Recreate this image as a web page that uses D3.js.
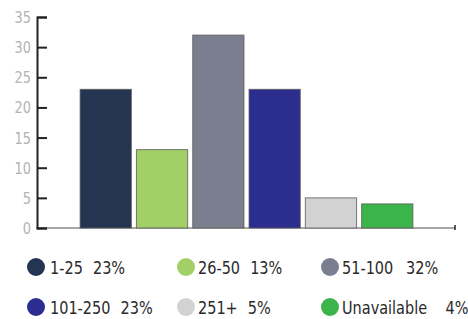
<!DOCTYPE html>
<html>
<head>
<meta charset="utf-8">
<script src="https://cdn.jsdelivr.net/npm/d3@7"></script>
<style>
body{margin:0;background:#fff;}
text{font-family:"DejaVu Sans Condensed","DejaVu Sans",sans-serif;}
</style>
</head>
<body>
<div id="chart"></div>
<script>
let categories = ['1-25','26-50','51-100','101-250','251+','Unavailable'];
let values = [23,13,32,23,5,4];
let percents = ['23%','13%','32%','23%','5%','4%'];
let colors = ['#243451','#a2d066','#7a7e8e','#2c2e8f','#d2d2d2','#3bb44a'];
let yTicks = [0,5,10,15,20,25,30,35];

let svg = d3.select('#chart').append('svg')
    .attr('width',468).attr('height',319);

let y = d3.scaleLinear().domain([0,35]).range([228,17]);
let x = d3.scaleBand().domain(categories).range([79,414]).paddingInner(0.09).paddingOuter(0.02);

// x baseline
svg.append('line')
    .attr('x1',36).attr('x2',455).attr('y1',y(0)).attr('y2',y(0))
    .attr('stroke','#8a8a8a').attr('stroke-width',1.5);
svg.append('line')
    .attr('x1',455).attr('x2',455).attr('y1',y(0)-3).attr('y2',y(0)+2)
    .attr('stroke','#222').attr('stroke-width',1.5);

// bars
svg.selectAll('rect.bar')
    .data(values)
    .join('rect')
    .attr('class','bar')
    .attr('x',(d,i)=>x(categories[i]))
    .attr('width',x.bandwidth())
    .attr('y',d=>y(d))
    .attr('height',d=>y(0)-y(d))
    .attr('fill',(d,i)=>colors[i])
    .attr('stroke','#5a5a5a')
    .attr('stroke-opacity',0.8)
    .attr('stroke-width',1);

// y axis
let yAxis = d3.axisRight(y).tickValues(yTicks).tickSize(10).tickFormat('');
let ga = svg.append('g').attr('transform','translate(37,0)').call(yAxis);
ga.select('.domain').attr('stroke','#222').attr('stroke-width',2);
ga.selectAll('.tick line').attr('stroke','#222').attr('stroke-width',2);

svg.selectAll('text.ylab')
    .data(yTicks)
    .join('text')
    .attr('class','ylab')
    .attr('transform',d=>'translate(31,'+(y(d)+6)+') scale(0.9,1)')
    .attr('text-anchor','end')
    .attr('font-size',16)
    .attr('fill','#b3b3b3')
    .text(d=>d);

// legend
let legendX = [36,186,330];
let labelGap = [14,12,12];
let pctGap = [11,11,14,11,11,20];
let legendY = [267,307];
let lg = svg.selectAll('g.leg')
    .data(categories)
    .join('g')
    .attr('class','leg')
    .attr('transform',(d,i)=>'translate('+legendX[i%3]+','+legendY[Math.floor(i/3)]+')');
lg.append('circle').attr('r',9).attr('fill',(d,i)=>colors[i]);
let lt = lg.append('text')
    .attr('transform',(d,i)=>'translate('+labelGap[i%3]+',6.5) scale(0.92,1)')
    .attr('font-size',17.5)
    .attr('fill','#2a2a2a');
lt.append('tspan').text(d=>d);
lt.append('tspan').attr('dx',(d,i)=>pctGap[i]).text((d,i)=>percents[i]);
</script>
</body>
</html>
